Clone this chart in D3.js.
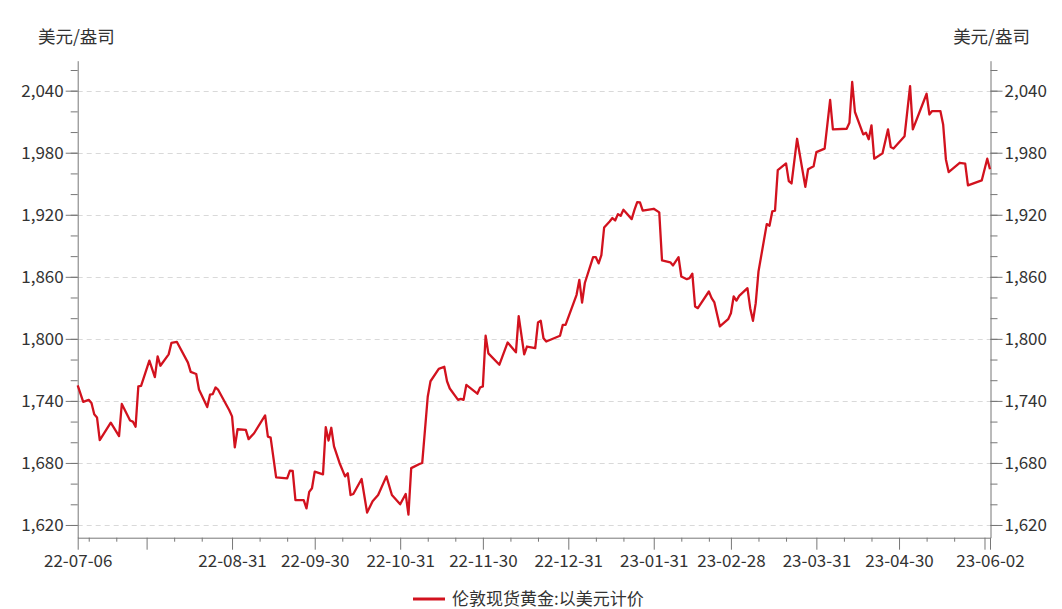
<!DOCTYPE html>
<html>
<head>
<meta charset="utf-8">
<script src="https://cdn.jsdelivr.net/npm/d3@7"></script>
<style>
  html, body { margin: 0; padding: 0; background: #fff; }
  svg { display: block; }
  text { font-family: "Noto Sans CJK SC", "Noto Sans", sans-serif; }
</style>
</head>
<body>
<svg id="chart" width="1062" height="609"></svg>
<script>
// ---- Data ----
const seriesName = "伦敦现货黄金:以美元计价";
const unitLabel = "美元/盎司";

const dates = [
  "2022-07-06","2022-07-08","2022-07-10","2022-07-11","2022-07-12","2022-07-13","2022-07-14","2022-07-18","2022-07-21","2022-07-22",
  "2022-07-25","2022-07-26","2022-07-27","2022-07-28","2022-07-29","2022-08-01","2022-08-03","2022-08-04","2022-08-05","2022-08-08",
  "2022-08-09","2022-08-11","2022-08-15","2022-08-16","2022-08-18","2022-08-19","2022-08-22","2022-08-23","2022-08-24","2022-08-25",
  "2022-08-26","2022-08-30","2022-08-31","2022-09-01","2022-09-02","2022-09-05","2022-09-06","2022-09-08","2022-09-12","2022-09-13",
  "2022-09-14","2022-09-16","2022-09-20","2022-09-21","2022-09-22","2022-09-23","2022-09-26","2022-09-27","2022-09-28","2022-09-29",
  "2022-09-30","2022-10-03","2022-10-04","2022-10-05","2022-10-06","2022-10-07","2022-10-09","2022-10-11","2022-10-12","2022-10-13",
  "2022-10-14","2022-10-17","2022-10-19","2022-10-21","2022-10-23","2022-10-26","2022-10-28","2022-10-31","2022-11-02","2022-11-03",
  "2022-11-04","2022-11-07","2022-11-08","2022-11-10","2022-11-11","2022-11-14","2022-11-16","2022-11-17","2022-11-18","2022-11-21",
  "2022-11-22","2022-11-23","2022-11-24","2022-11-28","2022-11-29","2022-11-30","2022-12-01","2022-12-02","2022-12-06","2022-12-09",
  "2022-12-12","2022-12-13","2022-12-15","2022-12-16","2022-12-19","2022-12-20","2022-12-21","2022-12-22","2022-12-23","2022-12-28",
  "2022-12-29","2022-12-30","2023-01-03","2023-01-04","2023-01-05","2023-01-06","2023-01-09","2023-01-10","2023-01-11","2023-01-12",
  "2023-01-13","2023-01-15","2023-01-16","2023-01-17","2023-01-18","2023-01-19","2023-01-20","2023-01-23","2023-01-24","2023-01-25",
  "2023-01-26","2023-01-27","2023-01-31","2023-02-02","2023-02-03","2023-02-06","2023-02-07","2023-02-09","2023-02-10","2023-02-12",
  "2023-02-13","2023-02-14","2023-02-15","2023-02-16","2023-02-20","2023-02-21","2023-02-22","2023-02-24","2023-02-27","2023-02-28",
  "2023-03-01","2023-03-02","2023-03-03","2023-03-06","2023-03-07","2023-03-08","2023-03-09","2023-03-10","2023-03-13","2023-03-14",
  "2023-03-15","2023-03-16","2023-03-17","2023-03-20","2023-03-21","2023-03-22","2023-03-24","2023-03-27","2023-03-28","2023-03-30",
  "2023-03-31","2023-04-03","2023-04-05","2023-04-06","2023-04-11","2023-04-12","2023-04-13","2023-04-14","2023-04-17","2023-04-18",
  "2023-04-19","2023-04-20","2023-04-21","2023-04-24","2023-04-26","2023-04-27","2023-04-28","2023-05-02","2023-05-04","2023-05-05",
  "2023-05-10","2023-05-11","2023-05-12","2023-05-15","2023-05-16","2023-05-17","2023-05-18","2023-05-22","2023-05-24","2023-05-25",
  "2023-05-30","2023-06-01","2023-06-02"
];

const values = [
  1755,1739,1741,1738,1727,1724,1702,1719,1706,1737,
  1721,1720,1715,1754,1754.5,1779,1763,1783,1774,1785,
  1796,1797,1777,1768,1766,1751,1734,1746,1746.5,1753,
  1750.6,1731,1725,1695,1712.6,1712,1703,1708.7,1726,1705.5,
  1704.5,1666,1665,1672.6,1672.3,1644,1644,1636,1652,1655.5,
  1671.6,1669,1714.5,1701.6,1714,1696,1680,1667,1670,1649,
  1650,1664.5,1632,1643,1649,1667,1649,1640,1650,1630,
  1675,1679,1680,1744,1759,1771,1773,1759,1752,1741,
  1742,1741,1755.5,1747,1753,1754,1803,1786,1775,1796.5,
  1787,1822,1785,1792.6,1791,1815.8,1817.5,1800.6,1797.4,1803,
  1813.5,1813.5,1842.6,1857,1835,1854,1879,1879,1873,1881,
  1907.7,1913.5,1916.8,1914.5,1920.6,1919,1924.8,1915.8,1924.8,1932.3,
  1932,1924,1925.8,1922.3,1875.8,1874,1871,1879,1860.3,1857.7,
  1858.7,1863,1831.3,1829.7,1845.8,1839.4,1835.2,1812,1819,1824.8,
  1841,1837,1841.6,1849,1829.7,1817.4,1834.5,1865,1911,1909.4,
  1923.2,1923.9,1963.2,1969.7,1952.6,1950.3,1993.5,1947,1964,1967,
  1980.6,1984,2031,2002.6,2003.2,2009,2048.4,2019.4,1997.7,1999.4,
  1993,2006.5,1974.2,1979.4,2002.6,1985.5,1984,1996,2044.5,2002.6,
  2037,2017,2020.3,2020.3,2007.4,1973.5,1961.3,1970.3,1969.4,1948.4,
  1953.2,1974.2,1964
];

const yMajorTicks = [1620, 1680, 1740, 1800, 1860, 1920, 1980, 2040];
const yMinorTicks = [1620,1640,1660,1680,1700,1720,1740,1760,1780,1800,1820,1840,1860,1880,1900,1920,1940,1960,1980,2000,2020,2040,2060];

const xLongTicks = ["2022-07-06","2022-07-31","2022-08-31","2022-09-30","2022-10-31","2022-11-30","2022-12-31",
  "2023-01-31","2023-02-28","2023-03-31","2023-04-30","2023-05-31","2023-06-02"];
const xTickLabels = ["2022-07-06","2022-08-31","2022-09-30","2022-10-31","2022-11-30","2022-12-31",
  "2023-01-31","2023-02-28","2023-03-31","2023-04-30","2023-06-02"];
const xShortTicks = ["2022-07-10","2022-07-20","2022-08-10","2022-08-20","2022-09-10","2022-09-20","2022-10-10","2022-10-20",
  "2022-11-10","2022-11-20","2022-12-10","2022-12-20","2023-01-10","2023-01-20","2023-02-10","2023-02-20",
  "2023-03-10","2023-03-20","2023-04-10","2023-04-20","2023-05-10","2023-05-20"];

// ---- Chart ----
(function () {
const parse = d3.timeParse("%Y-%m-%d");
const fmt = d3.timeFormat("%y-%m-%d");
const data = dates.map((d, i) => ({ date: parse(d), value: values[i] }));

const svg = d3.select("#chart");
const mLeft = 77.7, mRight = 990.5, mTop = 60.7, mBottom = 537.7;
const lineColor = "#d2121e";
const axisColor = "#777";
const textColor = "#333";

const x = d3.scaleTime()
  .domain([parse(dates[0]), parse(dates[dates.length - 1])])
  .range([mLeft, mRight - 0.5]);
const y = d3.scaleLinear().domain([1607.7, 2069]).range([mBottom, mTop]);

// gridlines
svg.append("g").selectAll("line").data(yMajorTicks).join("line")
  .attr("x1", mLeft).attr("x2", mRight)
  .attr("y1", d => Math.round(y(d)) + 0.5).attr("y2", d => Math.round(y(d)) + 0.5)
  .attr("stroke", "#d9d9d9").attr("stroke-width", 1).attr("stroke-dasharray", "5,4");

function styleAxis(g) {
  g.selectAll(".domain").attr("stroke", axisColor);
  g.selectAll(".tick line").attr("stroke", axisColor);
  g.selectAll(".tick text").attr("fill", textColor).style("font-size", "17px")
    .style("font-family", '"Noto Sans CJK SC", "Noto Sans", sans-serif');
}

// left axis
const gl = svg.append("g").attr("transform", `translate(${mLeft},0)`);
gl.call(d3.axisLeft(y).tickValues(yMinorTicks).tickSize(7).tickFormat("").tickSizeOuter(0));
gl.call(styleAxis);
const gl2 = svg.append("g").attr("transform", `translate(${mLeft},0)`);
gl2.call(d3.axisLeft(y).tickValues(yMajorTicks).tickSize(12).tickPadding(2).tickFormat(d3.format(",")).tickSizeOuter(0));
gl2.select(".domain").remove();
gl2.call(styleAxis);

// right axis
const gr = svg.append("g").attr("transform", `translate(${mRight},0)`);
gr.call(d3.axisRight(y).tickValues(yMinorTicks).tickSize(7).tickFormat("").tickSizeOuter(0));
gr.call(styleAxis);
const gr2 = svg.append("g").attr("transform", `translate(${mRight},0)`);
gr2.call(d3.axisRight(y).tickValues(yMajorTicks).tickSize(12).tickPadding(2).tickFormat(d3.format(",")).tickSizeOuter(0));
gr2.select(".domain").remove();
gr2.call(styleAxis);

// bottom axis
const gb = svg.append("g").attr("transform", `translate(0,${mBottom})`);
gb.call(d3.axisBottom(x).tickValues(xShortTicks.map(parse)).tickSize(4).tickFormat("").tickSizeOuter(0));
gb.call(styleAxis);
const labelSet = new Set(xTickLabels);
const gb2 = svg.append("g").attr("transform", `translate(0,${mBottom})`);
gb2.call(d3.axisBottom(x).tickValues(xLongTicks.map(parse)).tickSize(12).tickPadding(5)
  .tickFormat(d => labelSet.has(d3.timeFormat("%Y-%m-%d")(d)) ? fmt(d) : "").tickSizeOuter(0));
gb2.select(".domain").remove();
gb2.call(styleAxis);

// unit labels
svg.append("text").attr("x", 38).attr("y", 43).attr("fill", textColor)
  .style("font-size", "17.5px").text(unitLabel);
svg.append("text").attr("x", 1030).attr("y", 43).attr("fill", textColor)
  .attr("text-anchor", "end").style("font-size", "17.5px").text(unitLabel);

// line
const line = d3.line().x(d => x(d.date)).y(d => y(d.value));
svg.append("path").datum(data)
  .attr("fill", "none").attr("stroke", lineColor).attr("stroke-width", 2.3)
  .attr("stroke-linejoin", "round").attr("d", line);

// legend
const lg = svg.append("g");
lg.append("line").attr("x1", 413).attr("x2", 445).attr("y1", 599).attr("y2", 599)
  .attr("stroke", lineColor).attr("stroke-width", 3);
lg.append("text").attr("x", 452).attr("y", 599).attr("dy", "0.33em").attr("fill", textColor)
  .style("font-size", "17px").text(seriesName);
})();
</script>
</body>
</html>
